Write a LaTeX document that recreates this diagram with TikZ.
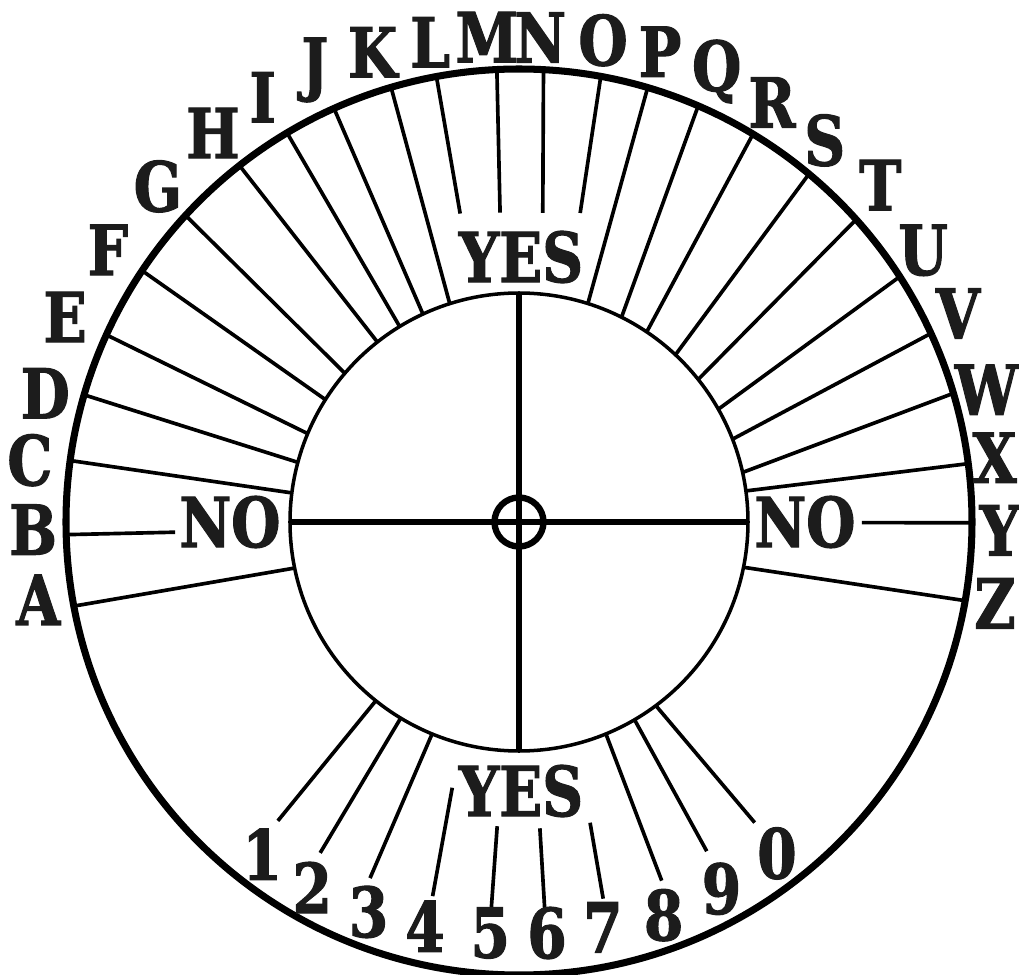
\documentclass[tikz,border=0pt]{standalone}
\usepackage{fontspec}
\usepackage{tikz}
\newfontfamily\stencil[FakeStretch=0.82, BoldFeatures={FakeBold=1.6}]{DejaVu Serif}
\definecolor{ink}{RGB}{28, 28, 28}

\begin{document}
\begin{tikzpicture}[x=0.025cm, y=0.025cm,
    ring/.style={line width=5pt},
    rim/.style={line width=2.5pt},
    spoke/.style={line width=2.6pt},
    axis/.style={line width=4.5pt},
    glyph/.style={font=\stencil\bfseries\fontsize{49}{49}\selectfont, text=ink, inner sep=0pt}]
                \useasboundingbox (-519,-452) rectangle (500,522);
                % Outer ring and inner dial
                \draw[ring] (0,0) circle (453);
                \draw[rim] (0,0) circle (229);
                % Cross and hub
                \draw[axis] (180:229) -- (0:229);
                \draw[axis] (90:229) -- (270:229);
                \draw[axis] (0,0) circle (24.5);
                % Letter spokes (inner angle / outer angle)
                \foreach \ai/\ao in {191.6/190.7, 172.7/172.2, 164.9/163.7, 157.3/155.6, 147.7/146.3,
                    139.5/137.4, 128.2/128.1, 121.4/120.8, 114.8/114.1, 107.6/106.4, 72.5/73.5,
                    63.4/66.7, 56.1/58.9, 46.9/50.2, 38.5/41.9, 29.5/32.8, 21.2/24.6, 12.5/16.5,
                    7.8/7.4, -11.4/-10}
                    \draw[spoke] (\ai:229) -- (\ao:453);
                % Short spokes beside YES and NO
                \foreach \ai/\ri/\ao in {181.7/344/181.6, 100.8/314/100.5, 93.5/310/92.8,
                    85.6/310/86.9, 78.8/315/79.6, -0.1/343/-0.1}
                    \draw[spoke] (\ai:\ri) -- (\ao:453);
                % Number spokes
                \foreach \ai/\ri/\ao/\ro in {231.3/229/231.1/384, 238.9/229/239/386, 247.7/229/247.3/386,
                    255.9/274/257/384, 265.9/305/265.9/387, 273.9/307/273.8/388, 283.3/309/282.6/386,
                    292.3/229/291.7/386, 300.3/229/299.7/379, 306.7/229/308.1/382}
                    \draw[spoke] (\ai:\ri) -- (\ao:\ro);

                \node[glyph] (yesTop) at (2,265) {YES};
                \node[glyph] (yesBot) at (2,-269) {YES};
                \node[glyph] (noLeft) at (-289,0) {NO};
                \node[glyph] (noRight) at (286,0) {NO};
                % Alphabet
                \foreach \ch/\ang/\rad in {A/189.2/487, B/180.9/486, C/172.8/493, D/164.8/491,
                    E/155.7/498, F/146.5/493, G/137.1/493, H/128.2/495, I/121.1/496, J/114.3/496,
                    K/107.3/492, L/100.5/488, M/93.8/486, N/87.5/485, O/80.1/489, P/73.3/491,
                    Q/66.3/492, R/58.9/490, S/51.3/489, T/43/494, U/33.9/487, V/25.4/486,
                    W/15.8/486, X/7.7/480, Y/-1/481, Z/-9.7/483}
                    \node[glyph] (l\ch) at (\ang:\rad) {\ch};
                % Digits
                \foreach \d/\ang/\rad in {1/232.3/420, 2/240.5/420, 3/248.9/418, 4/256.9/415, 5/266/412,
                    6/273.9/412, 7/281.7/414, 8/290.2/419, 9/298.9/419, 0/307.9/420}
                    \node[glyph] (n\d) at (\ang:\rad) {\d};
            \end{tikzpicture}
\end{document}
